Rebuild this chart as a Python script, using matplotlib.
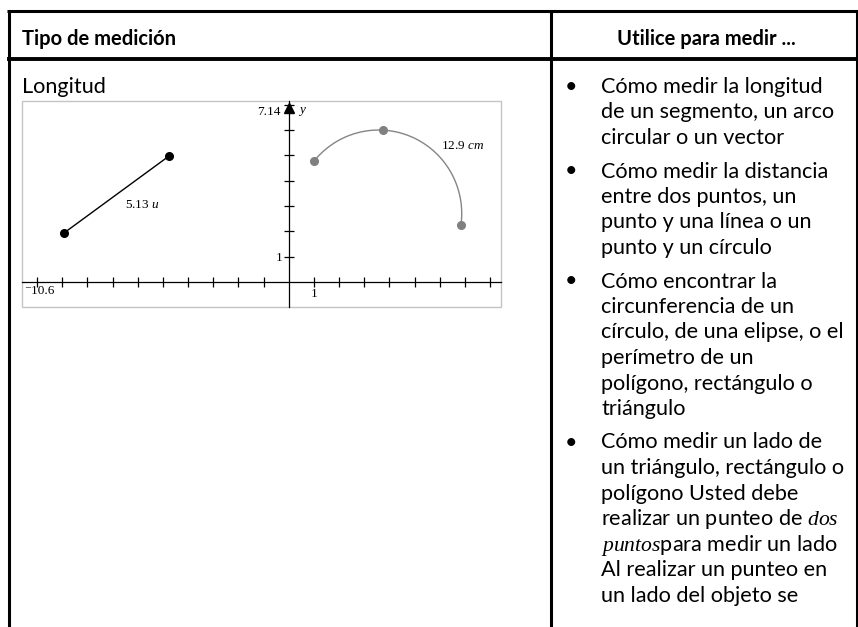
import numpy as np
import matplotlib.pyplot as plt
import matplotlib.transforms as mtransforms
from matplotlib.patches import Rectangle

plt.rcParams['font.family'] = ['Liberation Serif', 'DejaVu Serif']
plt.rcParams['mathtext.fontset'] = 'custom'
plt.rcParams['mathtext.rm'] = 'Liberation Serif'
plt.rcParams['mathtext.it'] = 'Liberation Serif:italic'

# table text
header_left = "Tipo de medición"
header_right = "Utilice para medir ..."
row_label = "Longitud"
bullets = [
    ["Cómo medir la longitud", "de un segmento, un arco", "circular o un vector"],
    ["Cómo medir la distancia", "entre dos puntos, un", "punto y una línea o un",
     "punto y un círculo"],
    ["Cómo encontrar la", "circunferencia de un", "círculo, de una elipse, o el",
     "perímetro de un", "polígono, rectángulo o", "triángulo"],
    ["Cómo medir un lado de", "un triángulo, rectángulo o", "polígono Usted debe",
     "realizar un punteo de $dos$", "$puntos$para medir un lado",
     "Al realizar un punteo en", "un lado del objeto se"],
]

# graph values
x_range = (-10.6, 8.43)
y_range = (-0.99, 7.14)
x_ticks = [-10, -9, -8, -7, -6, -5, -4, -3, -2, -1, 1, 2, 3, 4, 5, 6, 7, 8]
y_ticks = [1, 2, 3, 4, 5, 6, 7]
seg_x = [-8.92, -4.77]
seg_y = [1.94, 4.96]
seg_label = "5.13 $u$"
arc_x = [1.02, 3.75, 6.84]
arc_y = [4.79, 5.99, 2.25]
arc_label = "12.9 $cm$"

W, H = 858, 627
fig = plt.figure(figsize=(W / 100, H / 100), dpi=100)
page = fig.add_axes([0, 0, 1, 1])
page.set_xlim(0, W)
page.set_ylim(H, 0)
page.axis('off')

body_font = ['Lato', 'DejaVu Sans']
body_size = 15.6
head_size = 14.5

# table borders
page.plot([7, W], [11, 11], color='black', lw=2.2, solid_capstyle='butt')
page.plot([7, W], [59, 59], color='black', lw=2.8, solid_capstyle='butt')
for xv in [8.5, 551, 856.5]:
    page.plot([xv, xv], [10, H], color='black', lw=2.2, solid_capstyle='butt')

page.text(22, 45, header_left, family=body_font, fontsize=head_size,
          fontweight='bold', va='baseline')
page.text(706, 45, header_right, family=body_font, fontsize=head_size,
          fontweight='bold', va='baseline', ha='center')
page.text(22, 93, row_label, family=body_font, fontsize=body_size, va='baseline')

line_h = 25.5
y = 93
for group in bullets:
    page.text(571, y, "•", family=body_font, fontsize=body_size, va='baseline',
              ha='center')
    for line in group:
        page.text(601, y, line, family=body_font, fontsize=body_size, va='baseline')
        y += line_h
    y += 8

# graph panel
gx = fig.add_axes([22 / W, 1 - 307 / H, 479 / W, 206 / H])
gx.set_xlim(x_range)
gx.set_ylim(y_range)
gx.patch.set_alpha(0)
for s in ['top', 'right']:
    gx.spines[s].set_visible(False)
for s in ['left', 'bottom']:
    gx.spines[s].set_position(('data', 0))
    gx.spines[s].set_linewidth(0.9)
    gx.spines[s].set_zorder(1)
gx.add_patch(Rectangle((0, 0), 1, 1, transform=gx.transAxes, fill=False,
                       ec='#c4c4c4', lw=1, clip_on=False))
gx.set_xticks(x_ticks)
gx.set_xticklabels(['1' if t == 1 else '' for t in x_ticks])
gx.set_yticks(y_ticks)
gx.set_yticklabels(['1' if t == 1 else '' for t in y_ticks])
gx.tick_params(direction='inout', length=7, width=0.9, labelsize=9.5, pad=1)

off = mtransforms.offset_copy(gx.transData, fig=fig, x=0, y=-7, units='dots')
gx.plot([0], [y_range[1]], marker='^', ms=7, color='black', transform=off,
        clip_on=False)
gx.annotate("7.14", (0, y_range[1]), xytext=(-8, -11), textcoords='offset pixels',
            ha='right', va='center', fontsize=9.5)
gx.annotate("$y$", (0, y_range[1]), xytext=(9, -10), textcoords='offset pixels',
            ha='left', va='center', fontsize=9.5)
gx.annotate("⁻10.6", (x_range[0], 0), xytext=(2, -3), textcoords='offset pixels',
            ha='left', va='top', fontsize=9.5)

# segment
gx.plot(seg_x, seg_y, color='black', lw=1, marker='o', ms=5.5)
gx.annotate(seg_label, (np.mean(seg_x), np.mean(seg_y)), xytext=(8, -11),
            textcoords='offset pixels', ha='left', va='center', fontsize=9.5)

# three-point arc
ax_, bx_, cx_ = arc_x
ay_, by_, cy_ = arc_y
d = 2 * (ax_ * (by_ - cy_) + bx_ * (cy_ - ay_) + cx_ * (ay_ - by_))
ux = ((ax_**2 + ay_**2) * (by_ - cy_) + (bx_**2 + by_**2) * (cy_ - ay_)
      + (cx_**2 + cy_**2) * (ay_ - by_)) / d
uy = ((ax_**2 + ay_**2) * (cx_ - bx_) + (bx_**2 + by_**2) * (ax_ - cx_)
      + (cx_**2 + cy_**2) * (bx_ - ax_)) / d
r = np.hypot(ax_ - ux, ay_ - uy)
t0 = np.arctan2(ay_ - uy, ax_ - ux)
t1 = np.arctan2(cy_ - uy, cx_ - ux)
tt = np.linspace(t0, t1, 200)
gx.plot(ux + r * np.cos(tt), uy + r * np.sin(tt), color='#858585', lw=1)
gx.plot(arc_x, arc_y, 'o', color='#808080', ms=5.5)
gx.annotate(arc_label, (arc_x[1], arc_y[1]), xytext=(58, -16),
            textcoords='offset pixels', ha='left', va='center', fontsize=9.5)

fig.savefig('out.png', dpi=100)
